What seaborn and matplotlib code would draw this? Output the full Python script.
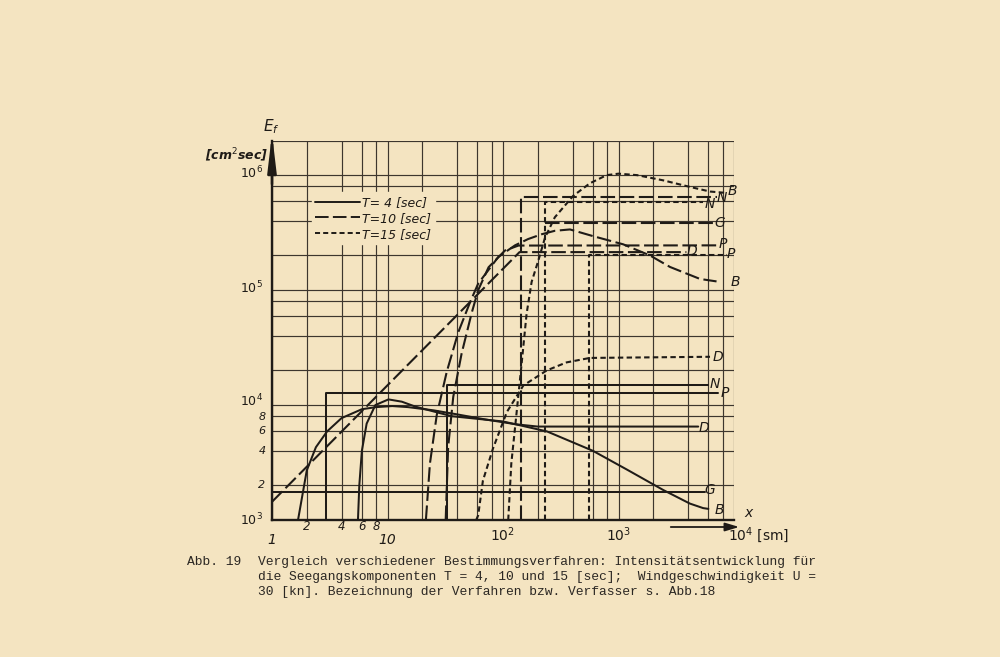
import matplotlib
matplotlib.use('Agg')
import matplotlib.pyplot as plt
import matplotlib.transforms as mtrans
from matplotlib.lines import Line2D
from matplotlib.ticker import NullLocator
import pandas as pd
import seaborn as sns

# ---------------- data ----------------
# T = 4 sec (solid)
t4_D_x = [1.68, 2.0, 2.4, 3.0, 4.0, 6.0, 8.0, 11.0, 15.0, 25.0, 40.0, 70.0, 130.0, 200.0, 4900.0]
t4_D_y = [1.0e3, 2.7e3, 4.3e3, 5.9e3, 7.7e3, 9.2e3, 9.6e3, 9.8e3, 9.6e3, 9.0e3, 8.3e3, 7.5e3, 6.8e3, 6.5e3, 6.5e3]
t4_B_x = [5.55, 5.7, 6.0, 6.6, 7.85, 10.2, 13.3, 17.4, 24.0, 36.0, 100.0, 240.0, 600.0, 1180.0, 2450.0, 4150.0, 5400.0, 6000.0]
t4_B_y = [1.0e3, 2.0e3, 4.0e3, 6.9e3, 1.0e4, 1.12e4, 1.07e4, 9.7e3, 8.9e3, 8.0e3, 7.2e3, 5.9e3, 4.0e3, 2.75e3, 1.82e3, 1.39e3, 1.27e3, 1.25e3]
t4_N_x = [32.5, 32.5, 6000.0]
t4_N_y = [1.0e3, 1.48e4, 1.48e4]
t4_P_x = [2.95, 2.95, 7300.0]
t4_P_y = [1.0e3, 1.27e4, 1.27e4]
t4_G_x = [1.0, 5600.0]
t4_G_y = [1.75e3, 1.75e3]

# T = 10 sec (long dashes)
t10_B_x = [21.5, 23.3, 26.7, 32.6, 41.0, 52.0, 61.0, 91.0, 127.0, 165.0, 216.0, 281.0, 380.0, 600.0, 1100.0, 1875.0, 2790.0, 5080.0, 7060.0]
t10_B_y = [1.0e3, 3.1e3, 8.2e3, 1.95e4, 4.3e4, 7.9e4, 1.14e5, 1.94e5, 2.45e5, 2.78e5, 3.06e5, 3.28e5, 3.37e5, 2.95e5, 2.5e5, 2.0e5, 1.59e5, 1.25e5, 1.19e5]
t10_P_x = [31.9, 33.5, 37.1, 43.8, 53.5, 61.0, 75.0, 104.0, 136.0, 7200.0]
t10_P_y = [1.0e3, 4.3e3, 1.18e4, 2.8e4, 6.3e4, 1.0e5, 1.58e5, 2.21e5, 2.44e5, 2.45e5]
t10_D_x = [1.0, 139.0, 3870.0]
t10_D_y = [1.44e3, 2.14e5, 2.14e5]
t10_G_x = [230.0, 7060.0]
t10_G_y = [3.8e5, 3.8e5]
t10_N_x = [144.0, 144.0, 7060.0]
t10_N_y = [1.0e3, 6.5e5, 6.5e5]

# T = 15 sec (short dashes)
t15_B_x = [111.0, 118.0, 131.0, 145.0, 160.0, 177.0, 202.0, 231.0, 281.0, 405.0, 566.0, 790.0, 1000.0, 1450.0, 2450.0, 4150.0, 6200.0, 8650.0]
t15_B_y = [1.0e3, 3.1e3, 8.5e3, 2.3e4, 6.2e4, 1.18e5, 1.8e5, 2.86e5, 4.3e5, 6.6e5, 8.5e5, 1.0e6, 1.03e6, 1.0e6, 9.0e5, 7.9e5, 7.2e5, 7.0e5]
t15_N_x = [230.0, 230.0, 5400.0]
t15_N_y = [1.0e3, 5.8e5, 5.8e5]
t15_P_x = [560.0, 560.0, 8650.0]
t15_P_y = [1.0e3, 2.03e5, 2.03e5]
t15_D_x = [58.6, 61.0, 67.0, 82.0, 108.0, 150.0, 239.0, 355.0, 565.0, 6200.0]
t15_D_y = [1.0e3, 1.1e3, 2.2e3, 4.2e3, 8.7e3, 1.48e4, 2.0e4, 2.35e4, 2.57e4, 2.63e4]

# end labels (letter, x, y)
end_labels = [
    ('B', 9600, 7.26e5), ('N', 7870, 6.3e5), ('N', 6200, 5.6e5), ('G', 7570, 3.83e5),
    ('P', 8040, 2.51e5), ('D', 4330, 2.2e5), ('P', 9420, 2.06e5), ('B', 10200, 1.17e5),
    ('D', 7260, 2.6e4), ('N', 6840, 1.52e4), ('P', 8350, 1.27e4), ('D', 5500, 6.3e3),
    ('G', 6200, 1.83e3), ('B', 7420, 1.22e3),
]

legend_labels = ['T= 4 [sec]', 'T=10 [sec]', 'T=15 [sec]']

grid_mult = [1, 2, 4, 6, 8]
x_grid = [m * 10 ** k for k in range(0, 4) for m in grid_mult] + [1e4]
y_grid = [m * 10 ** k for k in range(3, 6) for m in grid_mult] + [1e6, 2e6]

# ---------------- style ----------------
sns.set_theme(style='white')
plt.rcParams['font.family'] = ['DejaVu Sans']
plt.rcParams['mathtext.fontset'] = 'dejavusans'
plt.rcParams['mathtext.default'] = 'it'

PAPER = '#f4e4c1'
INK = '#1f1b17'
GRID = '#3d362e'
LS = {4: '-', 10: (0, (7, 2.2)), 15: (0, (2.6, 1.6))}

fig = plt.figure(figsize=(10, 6.57), dpi=100, facecolor=PAPER)
ax = fig.add_axes([0.272, 0.2085, 0.462, 0.5776])
ax.set_facecolor(PAPER)
ax.set_xscale('log')
ax.set_yscale('log')
ax.set_xlim(1, 1e4)
ax.set_ylim(1e3, 2e6)

ax.set_xticks(x_grid)
ax.set_yticks(y_grid)
ax.xaxis.set_minor_locator(NullLocator())
ax.yaxis.set_minor_locator(NullLocator())
ax.set_xticklabels([])
ax.set_yticklabels([])
ax.tick_params(length=0)
ax.grid(True, color=GRID, lw=0.85)
ax.set_axisbelow(True)
for s in ['top', 'right']:
    ax.spines[s].set_visible(False)
for s in ['left', 'bottom']:
    ax.spines[s].set_color(INK)
    ax.spines[s].set_linewidth(1.7)

curves = [
    (4, t4_D_x, t4_D_y), (4, t4_B_x, t4_B_y), (4, t4_N_x, t4_N_y), (4, t4_P_x, t4_P_y), (4, t4_G_x, t4_G_y),
    (10, t10_B_x, t10_B_y), (10, t10_P_x, t10_P_y), (10, t10_D_x, t10_D_y), (10, t10_G_x, t10_G_y), (10, t10_N_x, t10_N_y),
    (15, t15_B_x, t15_B_y), (15, t15_N_x, t15_N_y), (15, t15_P_x, t15_P_y), (15, t15_D_x, t15_D_y),
]
for T, xs, ys in curves:
    df = pd.DataFrame({'x': xs, 'y': ys})
    sns.lineplot(data=df, x='x', y='y', ax=ax, color=INK, lw=1.45 if T == 4 else 1.5,
                 linestyle=LS[T], sort=False, estimator=None, legend=False)
ax.set_xlabel('')
ax.set_ylabel('')

for lab, lx, ly in end_labels:
    ax.text(lx, ly, lab, ha='center', va='center', fontsize=10, style='italic',
            color=INK, clip_on=False)

# legend
handles = [Line2D([0], [0], color=INK, lw=1.4, linestyle=LS[T]) for T in (4, 10, 15)]
leg = ax.legend(handles, legend_labels, loc='upper left', bbox_to_anchor=(0.072, 0.88),
                frameon=True, facecolor=PAPER, edgecolor=PAPER, framealpha=1,
                handlelength=3.6, handletextpad=0.15, labelspacing=0.22,
                borderpad=0.3, prop={'size': 9, 'style': 'italic'})
for t in leg.get_texts():
    t.set_color(INK)

# y tick labels
ty = mtrans.blended_transform_factory(ax.transAxes, ax.transData)
for val, txt in [(1.05e6, r'$10^{6}$'), (1.05e5, r'$10^{5}$'), (1.08e4, r'$10^{4}$'), (1.0e3, r'$10^{3}$')]:
    ax.text(-0.02, val, txt, transform=ty, ha='right', va='center', fontsize=9, color=INK)
for val, txt in [(7.8e3, '8'), (6e3, '6'), (4e3, '4'), (2e3, '2')]:
    ax.text(-0.014, val, txt, transform=ty, ha='right', va='center', fontsize=8,
            style='italic', color=INK)

# x tick labels
tx = mtrans.blended_transform_factory(ax.transData, ax.transAxes)
for val, txt in [(1, '1'), (10, '10')]:
    ax.text(val, -0.052, txt, transform=tx, ha='center', va='center', fontsize=10,
            style='italic', color=INK)
for val, txt in [(100, r'$10^{2}$'), (1000, r'$10^{3}$')]:
    ax.text(val, -0.04, txt, transform=tx, ha='center', va='center', fontsize=10, color=INK)
ax.text(8800, -0.04, r'$10^{4}$ [sm]', transform=tx, ha='left', va='center', fontsize=10,
        color=INK)
for val, txt in [(2, '2'), (4, '4'), (6, '6'), (8, '8')]:
    ax.text(val, -0.016, txt, transform=tx, ha='center', va='center', fontsize=8.5,
            style='italic', color=INK)

# axis arrows and axis titles
ax.annotate('', xy=(742, 130), xytext=(668, 130), xycoords='figure pixels',
            textcoords='figure pixels',
            arrowprops=dict(arrowstyle='-|>,head_length=0.6,head_width=0.18', color=INK, lw=1.3,
                            mutation_scale=14))
ax.annotate('', xy=(272, 526), xytext=(272, 470), xycoords='figure pixels',
            textcoords='figure pixels',
            arrowprops=dict(arrowstyle='-|>,head_length=1.1,head_width=0.13', color=INK, lw=1.8,
                            mutation_scale=20))
fig.text(748 / 1000, 144 / 657, 'x', fontsize=10, style='italic', color=INK, ha='center', va='center')
fig.text(271 / 1000, 530 / 657, r'$E_f$', fontsize=11, color=INK, ha='center', va='center')
fig.text(237 / 1000, 502 / 657, r'[cm$^{2}$sec]', fontsize=9, style='italic', weight='bold',
         color=INK, ha='center', va='center')

# caption (typewriter)
cap = dict(family='Liberation Mono', fontsize=9.4, color='#2b2723', va='center', ha='left')
fig.text(187 / 1000, 1 - 562 / 657, 'Abb. 19', **cap)
fig.text(258 / 1000, 1 - 562 / 657,
         'Vergleich verschiedener Bestimmungsverfahren: Intensitätsentwicklung für', **cap)
fig.text(258 / 1000, 1 - 577 / 657,
         'die Seegangskomponenten T = 4, 10 und 15 [sec];  Windgeschwindigkeit U =', **cap)
fig.text(258 / 1000, 1 - 592 / 657,
         '30 [kn]. Bezeichnung der Verfahren bzw. Verfasser s. Abb.18', **cap)

fig.savefig('out.png', dpi=100, facecolor=PAPER)
